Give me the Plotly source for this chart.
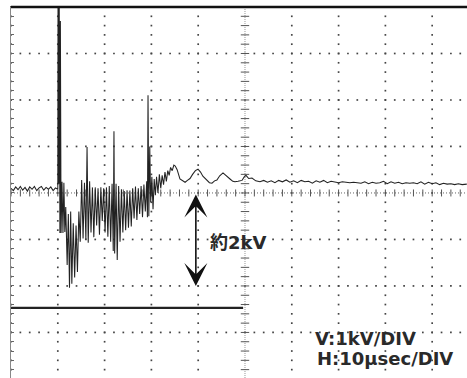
import numpy as np
import plotly.graph_objects as go

# ---- data: oscilloscope trace (time in microseconds, voltage in kV) ----
pre_t = [0.0, 0.5, 1.0, 1.5, 2.0, 2.5, 3.0, 3.5, 4.0, 4.5, 5.0, 5.5, 6.0, 6.5, 7.0,
         7.5, 8.0, 8.5, 9.0, 9.5, 10.0]
pre_v = [0.10, 0.05, 0.13, 0.07, 0.14, 0.06, 0.12, 0.04, 0.13, 0.08, 0.14, 0.05, 0.11,
         0.14, 0.06, 0.12, 0.08, 0.13, 0.05, 0.11, 0.08]

burst_t = [10.05, 10.20, 10.30, 10.45, 10.55, 10.70, 10.90, 11.10, 11.30, 11.50, 11.70,
           12.00, 12.25, 12.50, 12.75, 13.00, 13.30, 13.60, 13.90, 14.20, 14.50, 14.80,
           15.10, 15.40, 15.70, 16.00, 16.25, 16.50, 16.80, 17.10, 17.40, 17.70, 18.00,
           18.30, 18.60, 18.90, 19.20, 19.50, 19.80, 20.10, 20.40, 20.70, 21.00, 21.30,
           21.60, 21.85, 22.00, 22.15, 22.45, 22.70, 23.00, 23.30, 23.60, 23.90, 24.20,
           24.50, 24.80, 25.10, 25.40, 25.70, 26.00, 26.30, 26.60, 26.90, 27.20, 27.50,
           27.80, 28.10, 28.40, 28.70, 29.00, 29.15, 29.28, 29.45, 29.65, 29.85, 30.10,
           30.35, 30.60, 30.85, 31.10, 31.40, 31.70, 32.00, 32.30, 32.60, 32.90, 33.20,
           33.50, 33.80, 34.10, 34.45, 34.80, 35.10]
burst_v = [4.30, 0.20, 4.30, -0.86, 3.70, -0.86, 0.24, -0.86, 0.22, -0.84, -0.30,
           -1.55, -0.45, -2.04, -0.40, -1.95, -0.65, -1.82, -0.70, -1.70, -0.40, -1.05,
           0.28, -0.98, 0.22, -1.00, 0.99, -1.07, 0.25, -0.85, 0.12, -0.95, 0.12,
           -0.70, 0.10, -0.90, 0.12, -0.60, 0.10, -0.85, 0.12, -0.94, 0.15, -1.05,
           0.20, -1.25, 1.33, -1.30, 0.20, -1.44, 0.15, -1.05, 0.08, -0.85, 0.04,
           -0.80, 0.06, -0.75, 0.05, -0.72, 0.10, -0.55, 0.14, -0.58, 0.10, -0.45,
           0.15, -0.52, 0.18, -0.40, 0.25, -0.52, 2.10, -0.50, 1.00, -0.20, 0.35,
           -0.35, 0.30, -0.05, 0.35, 0.00, 0.40, 0.10, 0.38, 0.18, 0.45, 0.25,
           0.48, 0.38, 0.55, 0.48, 0.60, 0.58]

tail_t = [35.5, 36.1, 36.6, 37.2, 37.7, 38.25, 38.8, 39.4, 39.96, 40.5, 41.0, 41.9, 42.4,
          42.95, 43.5, 44.0, 44.6, 45.3, 45.8, 46.15, 46.8, 47.4, 47.86, 48.5, 49.36,
          49.8, 50.21, 50.8, 51.5, 52.3, 53.2, 54.0, 54.8, 55.6, 56.4, 57.2, 58.0, 58.8,
          59.6, 60.4, 61.2, 62.0, 62.8, 63.6, 64.4, 65.2, 66.0, 66.8, 67.6, 68.4, 69.2,
          70.0, 70.8, 71.6, 72.4, 73.2, 74.0, 74.8, 75.6, 76.4, 77.2, 78.0, 78.8, 79.6,
          80.4, 81.2, 82.0, 82.8, 83.6, 84.4, 85.2, 86.0, 86.8, 87.6, 88.4, 89.2, 90.0,
          90.8, 91.6, 92.4, 93.2, 94.0, 94.8, 95.6, 96.4, 97.4]
tail_v = [0.50, 0.30, 0.26, 0.23, 0.27, 0.31, 0.40, 0.48, 0.51, 0.45, 0.36, 0.28, 0.22,
          0.21, 0.26, 0.28, 0.37, 0.43, 0.38, 0.35, 0.30, 0.25, 0.24, 0.25, 0.27,
          0.34, 0.38, 0.31, 0.32, 0.26, 0.24, 0.27, 0.23, 0.26, 0.22, 0.27, 0.24, 0.28,
          0.23, 0.26, 0.22, 0.27, 0.24, 0.25, 0.21, 0.26, 0.23, 0.27, 0.22, 0.25, 0.24,
          0.22, 0.24, 0.23, 0.22, 0.23, 0.22, 0.21, 0.24, 0.20, 0.23, 0.21, 0.22, 0.25,
          0.20, 0.24, 0.21, 0.23, 0.20, 0.22, 0.21, 0.22, 0.20, 0.24, 0.19, 0.23, 0.20,
          0.22, 0.18, 0.21, 0.19, 0.20, 0.18, 0.20, 0.18, 0.19]

ref_level_kv = -2.47      # horizontal marker line level
ref_level_end_us = 49.6
arrow_t = 39.5            # double arrow position
arrow_from_kv, arrow_to_kv = 0.0, -2.0
label_amp = "約2kV"
label_v = "V:1kV/DIV"
label_h = "H:10μsec/DIV"

# ---- axes geometry ----
X_MAX = 97.44
Y_MIN, Y_MAX = -3.98, 4.0

t = pre_t + burst_t + tail_t
v = pre_v + burst_v + tail_v

fig = go.Figure()

# graticule dots
gx, gy = [], []
for tl in range(0, 100, 10):
    if tl == 50:
        continue
    for vv in np.arange(-4.0, 4.01, 0.2):
        gx.append(tl); gy.append(round(vv, 2))
for vl in range(-4, 5):
    if vl == 0:
        continue
    for tt in np.arange(0, 100.1, 2):
        gx.append(tt); gy.append(vl)
fig.add_trace(go.Scatter(x=gx, y=gy, mode="markers", hoverinfo="skip",
                         marker=dict(symbol="square", size=1.7, color="#444"),
                         cliponaxis=False, showlegend=False))

# center cross lines (fine dotted) with ticks
fig.add_trace(go.Scatter(x=[0, X_MAX], y=[0, 0], mode="lines", hoverinfo="skip",
                         line=dict(color="#666", width=1, dash="1px,2px"), showlegend=False))
fig.add_trace(go.Scatter(x=[50, 50], y=[Y_MIN, Y_MAX], mode="lines", hoverinfo="skip",
                         line=dict(color="#999", width=1, dash="1px,1px"), showlegend=False))
ht = [tt for tt in np.arange(0, 100.1, 2)]
fig.add_trace(go.Scatter(x=ht, y=[0] * len(ht), mode="markers", hoverinfo="skip",
                         marker=dict(symbol="line-ns", size=5, line=dict(width=1, color="#555")),
                         showlegend=False))
vt = [round(vv, 2) for vv in np.arange(-4.0, 4.01, 0.2)]
fig.add_trace(go.Scatter(x=[50] * len(vt), y=vt, mode="markers", hoverinfo="skip",
                         marker=dict(symbol="line-ew", size=6, line=dict(width=1, color="#555")),
                         cliponaxis=False, showlegend=False))

# reference marker line
fig.add_trace(go.Scatter(x=[0, ref_level_end_us], y=[ref_level_kv, ref_level_kv], mode="lines",
                         hoverinfo="skip", line=dict(color="#222", width=2.2), showlegend=False))

# the waveform
fig.add_trace(go.Scatter(x=t, y=v, mode="lines", line=dict(color="#222", width=1.05),
                         showlegend=False))

# top border
fig.add_shape(type="line", xref="paper", yref="paper", x0=0, x1=1, y0=1, y1=1,
              line=dict(color="#111", width=2.5))

fig.add_annotation(x=arrow_t, y=arrow_to_kv, ax=arrow_t, ay=arrow_from_kv,
                   xref="x", yref="y", axref="x", ayref="y", text="", showarrow=True,
                   arrowhead=3, startarrowhead=3, arrowside="end+start",
                   arrowsize=2.4, startarrowsize=2.4, arrowwidth=1.6, arrowcolor="#111")

font = dict(family="DejaVu Sans, Noto Sans CJK JP", size=18, color="#2a2a2a", weight="bold")
fig.add_annotation(x=42.0, y=-1.07, text=label_amp, showarrow=False, xanchor="left",
                   yanchor="middle", font=font)
fig.add_annotation(x=64.6, y=-3.13, text=label_v, showarrow=False, xanchor="left",
                   yanchor="middle", font=font)
fig.add_annotation(x=65.0, y=-3.56, text=label_h, showarrow=False, xanchor="left",
                   yanchor="middle", font=font)

fig.update_layout(
    width=467, height=378,
    margin=dict(l=11, r=0, t=7, b=0),
    paper_bgcolor="white", plot_bgcolor="white",
    xaxis=dict(range=[0, X_MAX], showgrid=False, zeroline=False, showticklabels=False,
               ticks="", showline=False, fixedrange=True),
    yaxis=dict(range=[Y_MIN, Y_MAX], showgrid=False, zeroline=False, showticklabels=False,
               showline=True, linecolor="#888", linewidth=1,
               ticks="inside", ticklen=3, tickcolor="#666", dtick=0.2, tick0=0,
               fixedrange=True),
)

fig.write_html("out.html", config={"displayModeBar": False},
               post_script="document.body.style.margin='0';document.body.style.overflow='hidden';")
